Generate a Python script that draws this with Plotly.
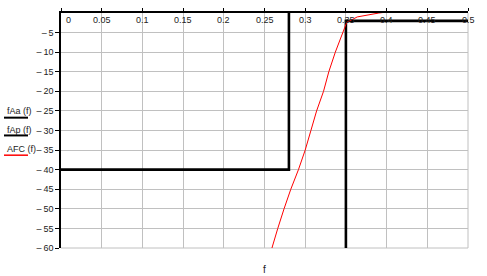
import plotly.graph_objects as go

# ---- data ----
fAa_f = [0.0, 0.28, 0.28, 0.5]
fAa_v = [-40, -40, 10, 10]

fAp_f = [0.0, 0.35, 0.35, 0.5]
fAp_v = [-80, -80, -2, -2]

AFC_f = [0.252, 0.259, 0.2663, 0.274, 0.2823, 0.2917, 0.300, 0.307, 0.314,
         0.3225, 0.329, 0.337, 0.346, 0.351, 0.364, 0.3905, 0.43]
AFC_v = [-65, -60, -55, -50, -45, -40, -35, -30, -25,
         -20, -15, -10, -5.4, -2.4, -1.0, 0.0, 1.0]

x_ticks = [0, 0.05, 0.1, 0.15, 0.2, 0.25, 0.3, 0.35, 0.4, 0.45, 0.5]
x_tick_text = ["0", "0.05", "0.1", "0.15", "0.2", "0.25", "0.3", "0.35", "0.4", "0.45", "0.5"]
y_ticks = [-5, -10, -15, -20, -25, -30, -35, -40, -45, -50, -55, -60]
y_tick_text = ["\u2013\u2009" + str(-v) for v in y_ticks]

legend_names = ["fAa (f)", "fAp (f)", "AFC (f)"]
legend_colors = ["black", "black", "red"]

FONT = "Liberation Sans"

fig = go.Figure()
fig.add_trace(go.Scatter(x=fAa_f, y=fAa_v, mode="lines",
                         line=dict(color="black", width=2.6), showlegend=False))
fig.add_trace(go.Scatter(x=fAp_f, y=fAp_v, mode="lines",
                         line=dict(color="black", width=2.6), showlegend=False))
fig.add_trace(go.Scatter(x=AFC_f, y=AFC_v, mode="lines",
                         line=dict(color="red", width=1), showlegend=False))

W, H = 487, 276
ml, mr, mt, mb = 61, 19, 10, 28
pw, ph = W - ml - mr, H - mt - mb

fig.update_layout(
    width=W, height=H,
    margin=dict(l=ml, r=mr, t=mt, b=mb, pad=0),
    paper_bgcolor="white", plot_bgcolor="white",
    font=dict(family=FONT, size=9, color="#222"),
    xaxis=dict(range=[0, 0.5], side="top", tickvals=x_ticks, showticklabels=False,
               showgrid=True, gridcolor="#c0c0c0", gridwidth=1,
               showline=True, linecolor="black", linewidth=1.5,
               ticks="outside", ticklen=3, tickcolor="black", zeroline=False),
    yaxis=dict(range=[-60, 0], tickvals=y_ticks, ticktext=y_tick_text,
               showgrid=True, gridcolor="#c0c0c0", gridwidth=1,
               showline=True, linecolor="black", linewidth=1.5,
               ticks="outside", ticklen=4, tickcolor="black", zeroline=False,
               tickfont=dict(family=FONT, size=9, color="#222")),
)

# gray border on right/bottom
fig.add_shape(type="line", xref="paper", yref="paper", x0=1, x1=1, y0=0, y1=1,
              line=dict(color="#c0c0c0", width=1), layer="below")
fig.add_shape(type="line", xref="paper", yref="paper", x0=0, x1=1, y0=0, y1=0,
              line=dict(color="#c0c0c0", width=1), layer="below")

# x tick labels inside, below top axis line
for v, t in zip(x_ticks, x_tick_text):
    fig.add_annotation(x=v, y=0, xref="x", yref="y", text=t, showarrow=False,
                       xanchor="left" if v == 0 else "center", yanchor="middle",
                       xshift=3 if v == 0 else 0, yshift=-7,
                       font=dict(family=FONT, size=9, color="#222"))

# axis label
fig.add_annotation(x=0.5, y=-(270 - (mt + ph)) / ph, xref="paper", yref="paper",
                   text="f", showarrow=False, xanchor="center", yanchor="middle",
                   font=dict(family=FONT, size=10, color="#222"))

# legend at left: text with line underneath
text_y_px = [109, 128, 148]
line_y_px = [116, 134, 154]
for name, col, ty, ly in zip(legend_names, legend_colors, text_y_px, line_y_px):
    fig.add_annotation(x=(5 - ml) / pw, y=(mt + ph - ty) / ph, xref="paper", yref="paper",
                       text=name, showarrow=False, xanchor="left", yanchor="middle",
                       font=dict(family=FONT, size=9, color="#222"))
    fig.add_shape(type="line", xref="paper", yref="paper",
                  x0=(4 - ml) / pw, x1=(28 - ml) / pw,
                  y0=(mt + ph - ly) / ph, y1=(mt + ph - ly) / ph,
                  line=dict(color=col, width=2 if col == "black" else 1.5))

fig.write_html("out.html")
